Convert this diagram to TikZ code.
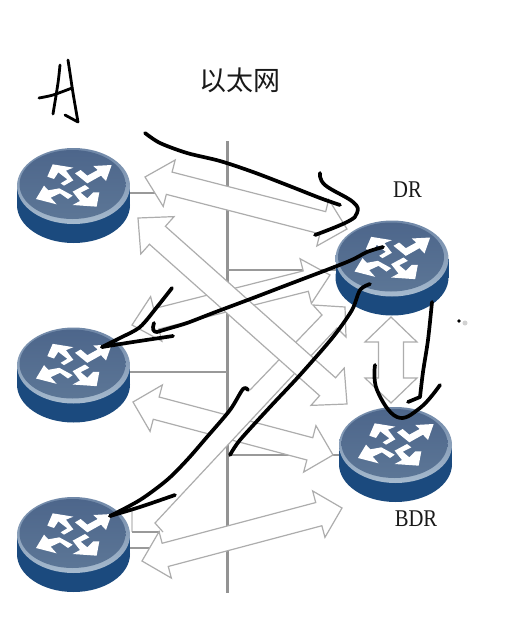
\documentclass[tikz,border=0pt]{standalone}
\usepackage{fontspec}
\setmainfont{Liberation Serif}
\newfontfamily\cjkfont{Noto Sans CJK SC}
\usetikzlibrary{calc}
\definecolor{routerside}{HTML}{1B4A7E}
\definecolor{routerfaceA}{HTML}{4D668B}
\definecolor{routerfaceB}{HTML}{5C7696}
\definecolor{routerrimA}{HTML}{6F87A7}
\definecolor{routerrimB}{HTML}{A6BACE}
\definecolor{thinline}{gray}{0.6}
\definecolor{blockedge}{gray}{0.68}
\tikzset{
  x=1pt,y=-1pt,
  routerbox/.style={minimum width=113pt,minimum height=95pt,inner sep=0pt,outer sep=0pt},
  busline/.style={draw=gray!85,line width=3pt},
  thin link/.style={draw=thinline,line width=1.1pt},
  blockarrow/.style={draw=blockedge,fill=white,line width=1.2pt,line join=miter},
  ink/.style={draw=black,line width=3.7pt,line cap=round,line join=round},
  inkthin/.style={draw=black,line width=2.8pt,line cap=round,line join=round},
  glyph/.style={fill=white,line join=round},
  lbl/.style={inner sep=0pt,text=black!90},
  routerpic/.pic={
    \fill[routerside] (0,9.5) ellipse [x radius=56.5pt,y radius=38pt];
    \fill[routerside] (-56.5,-9.5) rectangle (56.5,9.5);
    \shade[top color=routerrimA,bottom color=routerrimB] (0,-9.5) ellipse [x radius=56.5pt,y radius=38pt];
    \shade[top color=routerfaceA,bottom color=routerfaceB] (-1,-11) ellipse [x radius=53pt,y radius=34.5pt];
    \begin{scope}[shift={(-43.5,-40.5)},scale=.3333]
    \fill[glyph] (245,30)--(228,78)--(213,62)--(172,85)--(135,55)--(152,45)--(172,62)--(203,45)--(190,33)--cycle;
    \fill[glyph] (68,28)--(130,38)--(108,47)--(130,76)--(102,92)--(92,85)--(112,73)--(85,52)--(72,72)--(52,65)--cycle;
    \fill[glyph] (18,132)--(42,92)--(55,106)--(88,100)--(128,122)--(114,132)--(90,115)--(62,128)--(80,148)--cycle;
    \fill[glyph] (200,155)--(128,150)--(150,138)--(128,110)--(165,90)--(178,100)--(152,113)--(172,130)--(190,112)--(208,112)--cycle;
    \end{scope}
  }
}
% double block arrow between two named points: ends, shaft half-width, head half-width, head length
\newcommand\dblarrow[5]{%
  \coordinate (ha) at ($(#1)!#5!(#2)$);
  \coordinate (hb) at ($(#2)!#5!(#1)$);
  \filldraw[blockarrow] (#1) -- ($(ha)!#4!90:(#2)$) -- ($(ha)!#3!90:(#2)$)
    -- ($(hb)!#3!-90:(#1)$) -- ($(hb)!#4!-90:(#1)$) -- (#2)
    -- ($(hb)!#4!90:(#1)$) -- ($(hb)!#3!90:(#1)$)
    -- ($(ha)!#3!-90:(#2)$) -- ($(ha)!#4!-90:(#2)$) -- cycle;
}
\begin{document}
\begin{tikzpicture}
\useasboundingbox (0,0) rectangle (522,619);
\fill[white] (0,0) rectangle (522,619);

% router boxes
\node[routerbox] (r1) at (73.5,195.5) {};
\node[routerbox] (r2) at (73.5,375) {};
\node[routerbox] (r3) at (73.5,544.5) {};
\node[routerbox] (dr) at (392,268) {};
\node[routerbox] (bdr) at (395.5,454.5) {};

% bus
\coordinate (bustop) at (227,141);
\coordinate (busbot) at (227,593);
\draw[busline] (bustop) -- (busbot);

% thin links to the bus
\coordinate (b1) at (227,193);
\coordinate (b2) at (227,372);
\coordinate (b3) at (227,548);
\coordinate (b4) at (227,270);
\coordinate (b5) at (227,455);
\draw[thin link] (b1 -| r1.east) -- (b1);
\draw[thin link] (b2 -| r2.east) -- (b2);
\draw[thin link] (b3 -| r3.east) -- (b3);
\draw[thin link] (b4) -- (b4 -| dr.west);
\draw[thin link] (b5) -- (b5 -| bdr.west);
\coordinate (s1) at (132,510);
\coordinate (s2) at (132,532);
\coordinate (s3) at (160,532);
\draw[thin link,draw=gray!35] (s1) -- (s2);
\draw[thin link] (s2) -- (s3);

% block arrow ends
\coordinate (a1l) at (145,177);  \coordinate (a1r) at (347,229);
\coordinate (a2l) at (138,218);  \coordinate (a2r) at (347,404);
\coordinate (a3l) at (132,325);  \coordinate (a3r) at (330,275);
\coordinate (a5l) at (142,561);  \coordinate (a5r) at (342,508);
\coordinate (a6l) at (133,402);  \coordinate (a6r) at (333,455);
\coordinate (a7t) at (391,317);  \coordinate (a7b) at (391,403);

\dblarrow{a6l}{a6r}{11.5pt}{24pt}{24pt}
\dblarrow{a3l}{a3r}{10.5pt}{23pt}{25pt}

% arrow towards DR, left head hidden
\fill[white] (207,436) -- (322,315) -- (313,305) -- (345,307) -- (346,337) -- (337,328) -- (155,523) -- cycle;
\draw[blockedge,line width=1.2pt,line join=miter] (250,390) -- (322,315) -- (313,305) -- (345,307) -- (346,337) -- (337,328) -- (155,523) -- (163,532);

\dblarrow{a2l}{a2r}{12pt}{25pt}{26pt}
\dblarrow{a1l}{a1r}{11.5pt}{24pt}{25pt}
\dblarrow{a5l}{a5r}{12pt}{24pt}{24pt}
\dblarrow{a7t}{a7b}{12.5pt}{26pt}{25pt}

% routers
\pic at (r1) {routerpic};
\pic at (r2) {routerpic};
\pic at (r3) {routerpic};
\pic at (dr) {routerpic};
\pic at (bdr) {routerpic};

% labels
\node[lbl] (eth) at (239.5,80) {\cjkfont\fontsize{27}{30}\selectfont 以太网};
\node[lbl] (drl) at (407.5,190) {\fontsize{24}{28}\selectfont\scalebox{.86}[1]{DR}};
\node[lbl] (bdrl) at (416,519) {\fontsize{24}{28}\selectfont\scalebox{.86}[1]{BDR}};

% handwriting
\draw[inkthin] plot[smooth] coordinates {(60,65) (58,83) (53,114)};
\draw[inkthin] plot[smooth] coordinates {(68,60) (70,73) (73,93) (78,122)} -- (65,115);
\draw[inkthin] plot[smooth] coordinates {(39,98) (53,95) (72,88)};

\draw[ink] plot[smooth] coordinates {(145,133) (160,143) (187,153) (220,161) (253,172) (287,185) (320,198) (340,205)};
\draw[ink] plot[smooth,tension=.7] coordinates {(320,173) (325,185) (353,202) (357,213) (347,222) (315,235)};

\draw[ink] plot[smooth] coordinates {(383,247) (367,252) (347,262) (287,285) (253,298) (213,313) (187,323) (167,329) (157,332)} .. controls (153,332) and (152,329) .. (154,323);
\draw[ink] plot[smooth] coordinates {(172,288) (157,307) (140,327) (120,338) (102,347)};
\draw[ink] plot[smooth] coordinates {(102,347) (133,342) (173,336)};

\draw[ink] plot[smooth] coordinates {(370,284) (360,290) (352,310) (333,337) (300,375) (270,407) (240,440) (230,455)};
\draw[ink] plot[smooth] coordinates {(248,390) (243,389) (230,410) (207,437) (187,460) (167,480) (140,500) (110,516)};
\draw[ink] plot[smooth] coordinates {(110,516) (140,507) (175,495)};

\draw[ink] plot[smooth] coordinates {(432,302) (428,340) (423,372) (420,397)} -- (408,402);
\draw[ink] plot[smooth,tension=.7] coordinates {(375,365) (377,390) (397,417) (420,408) (440,385)};

\fill[black] (459,321) circle (1.8pt);
\fill[gray!35] (465,323) circle (2.5pt);
\end{tikzpicture}
\end{document}
